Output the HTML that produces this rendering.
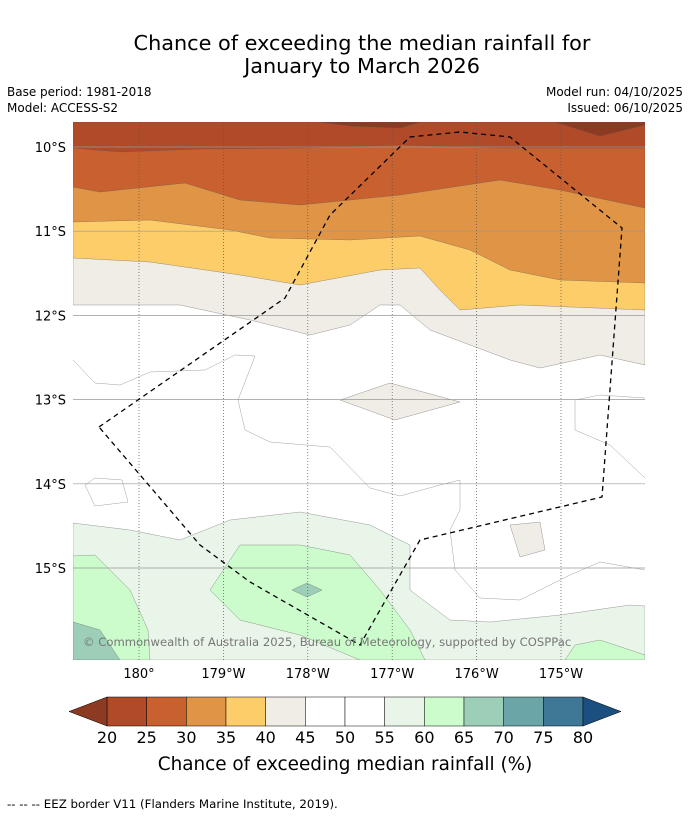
<!DOCTYPE html>
<html><head><meta charset="utf-8"><style>
body{margin:0;background:#fff;font-family:"DejaVu Sans","Liberation Sans",sans-serif;}
#wrap{position:relative;width:690px;height:816px;overflow:hidden;}
.t{position:absolute;white-space:nowrap;color:#000}
svg text{font-family:"DejaVu Sans","Liberation Sans",sans-serif;}
</style></head><body>
<div id="wrap">
<div class="t" style="left:0;width:724px;top:32px;text-align:center;font-size:20.8px;line-height:23px">Chance of exceeding the median rainfall for<br>January to March 2026</div>
<div class="t" style="left:7px;top:85px;font-size:12px">Base period: 1981-2018</div>
<div class="t" style="left:7px;top:101px;font-size:12px">Model: ACCESS-S2</div>
<div class="t" style="right:7px;top:85px;font-size:12px">Model run: 04/10/2025</div>
<div class="t" style="right:7px;top:101px;font-size:12px">Issued: 06/10/2025</div>
<svg id="svg" width="690" height="816" style="position:absolute;left:0;top:0"></svg>
<div class="t" style="left:7px;top:797px;font-size:11.8px">--  --  -- EEZ border V11 (Flanders Marine Institute, 2019).</div>
</div>
<script>
const lonTicks=[180,179,178,177,176,175];
const lonLabels=["180°","179°W","178°W","177°W","176°W","175°W"];
const latTicks=[10,11,12,13,14,15];
const latLabels=["10°S","11°S","12°S","13°S","14°S","15°S"];
const cbLevels=[20,25,30,35,40,45,50,55,60,65,70,75,80];
const cbColors=["#b04a28","#c8612f","#e09445","#fdcd6a","#f0ece6","#ffffff","#ffffff","#eaf5e9","#ccfccc","#9dcfb8","#6ba5a8","#3f7896"];
const NS="http://www.w3.org/2000/svg";
const svg=document.getElementById('svg');
const X0=73,X1=645,Y0=122,Y1=660;
function xOf(w){return 139+(180-w)*84.4;}
function yOf(l){return 147+(l-10)*84.2;}
function el(t,a,p){const e=document.createElementNS(NS,t);for(const k in a)e.setAttribute(k,a[k]);(p||svg).appendChild(e);return e;}
const defs=el('defs',{});const cp=el('clipPath',{id:'mc'},defs);el('rect',{x:X0,y:Y0,width:X1-X0,height:Y1-Y0},cp);
const g=el('g',{'clip-path':'url(#mc)'});


el('rect',{x:X0,y:Y0,width:X1-X0,height:Y1-Y0,fill:'#fff'},g);
function band(top,fill,name){
 let d='M'+X0+','+Y0+' L'+X1+','+Y0;
 for(let i=top.length-1;i>=0;i--)d+=' L'+top[i][0]+','+top[i][1];
 d+='Z';const p=el('path',{d:d,fill:fill,stroke:'#555','stroke-width':0.3},g);
 
 
}
function poly(pts,fill,name){const p=el('path',{d:'M'+pts.map(q=>q.join(',')).join(' L')+'Z',fill:fill,stroke:'#555','stroke-width':0.3},g);
 
 }
function line(pts,name){const p=el('path',{d:'M'+pts.map(q=>q.join(',')).join(' L'),fill:'none',stroke:'#888','stroke-width':0.4},g);
 
 }
band([[73,305],[180,305],[250,320],[310,335],[350,325],[380,305],[400,305],[430,330],[510,360],[540,368],[600,355],[645,365]],'#f0ece6','band-40-45');
band([[73,258],[150,262],[240,275],[300,285],[380,270],[420,268],[440,290],[460,310],[520,305],[645,310]],'#fdcd6a','band-35-40');
band([[73,222],[150,220],[230,230],[270,238],[350,240],[420,236],[470,250],[510,270],[560,280],[645,283]],'#e09445','band-30-35');
band([[73,187],[100,192],[185,183],[240,200],[300,205],[400,195],[500,180],[560,190],[645,208]],'#c8612f','band-25-30');
band([[73,148],[120,152],[200,149],[300,148],[400,145],[500,148],[645,148]],'#b04a28','band-20-25');
poly([[320,122],[420,122],[400,128],[350,126]],'#8d3a22','band-below-20-a');
poly([[555,122],[645,122],[645,125],[600,136]],'#8d3a22','band-below-20-b');
poly([[340,400],[390,383],[460,402],[395,420]],'#f0ece6','beige-blob');
poly([[510,525],[540,522],[545,550],[520,557]],'#f0ece6','beige-blob-2');
line([[73,360],[95,383],[120,385],[150,372],[205,370],[235,355],[255,356],[238,400],[245,430],[270,442],[330,447],[370,488],[400,496],[440,485],[460,480],[460,510],[450,530],[455,570],[480,598],[520,600],[570,575],[600,562],[645,570]],'contour-45-a');
line([[575,400],[600,395],[645,398]],'contour-45-b');
line([[575,400],[575,430],[610,445],[645,478]],'contour-45-c');
line([[85,485],[95,478],[122,480],[128,502],[95,506],[85,485]],'contour-45-d');
poly([[73,523],[130,530],[180,540],[230,520],[300,512],[370,525],[410,545],[410,590],[450,620],[490,622],[560,615],[630,605],[645,606],[645,660],[73,660]],'#eaf5e9','band-55-60');
poly([[73,556],[95,555],[130,590],[148,630],[150,660],[73,660]],'#ccfccc','band-60-65-left');
poly([[240,545],[300,545],[350,555],[380,590],[410,630],[425,660],[360,660],[300,635],[240,620],[210,590]],'#ccfccc','band-60-65-mid');
poly([[565,660],[575,645],[600,640],[645,655],[645,660]],'#ccfccc','band-60-65-right');
poly([[73,622],[100,630],[120,660],[73,660]],'#9dcfb8','band-65-70');
poly([[292,590],[307,583],[322,590],[307,597]],'#9dcfb8','band-65-70-small');
lonTicks.forEach((w,i)=>{const l=el('line',{x1:xOf(w),x2:xOf(w),y1:Y0,y2:Y1,stroke:'#555','stroke-width':0.7,'stroke-dasharray':'1,2'});
 
 const t=el('text',{x:xOf(w),y:678,'text-anchor':'middle','font-size':13});t.textContent=lonLabels[i];
 });
latTicks.forEach((l,i)=>{const ln=el('line',{x1:X0,x2:X1,y1:yOf(l),y2:yOf(l),stroke:'#999','stroke-width':0.7});
 
 const t=el('text',{x:66,y:yOf(l)+5,'text-anchor':'end','font-size':13});t.textContent=latLabels[i];
 });
const eez=el('path',{d:'M99,427 L285,298 L330,215 L410,137 L460,132 L510,137 L622,228 L602,497 L420,540 L360,645 L250,582 L200,545 Z',fill:'none',stroke:'#000','stroke-width':1.3,'stroke-dasharray':'5,4'});

const cr=el('text',{x:83,y:646,'font-size':11.6,fill:'#777'});cr.textContent='© Commonwealth of Australia 2025, Bureau of Meteorology, supported by COSPPac';

const cbX0=107,cbX1=583,cbY=697,cbH=29,bw=(cbX1-cbX0)/(cbLevels.length-1);
cbColors.forEach((c,i)=>{const r=el('rect',{x:cbX0+i*bw,y:cbY,width:bw,height:cbH,fill:c,stroke:'#000','stroke-width':0.5});
 });
const tl=el('path',{d:`M${cbX0},${cbY} L69,${cbY+cbH/2} L${cbX0},${cbY+cbH}Z`,fill:'#8d3a22',stroke:'#000','stroke-width':0.5});

const tr=el('path',{d:`M${cbX1},${cbY} L621,${cbY+cbH/2} L${cbX1},${cbY+cbH}Z`,fill:'#1b4f80',stroke:'#000','stroke-width':0.5});

cbLevels.forEach((v,i)=>{const t=el('text',{x:cbX0+i*bw,y:743,'text-anchor':'middle','font-size':16});t.textContent=v;
 });
const ct=el('text',{x:345,y:770,'text-anchor':'middle','font-size':18.4});ct.textContent='Chance of exceeding median rainfall (%)';

</script>
</body></html>
